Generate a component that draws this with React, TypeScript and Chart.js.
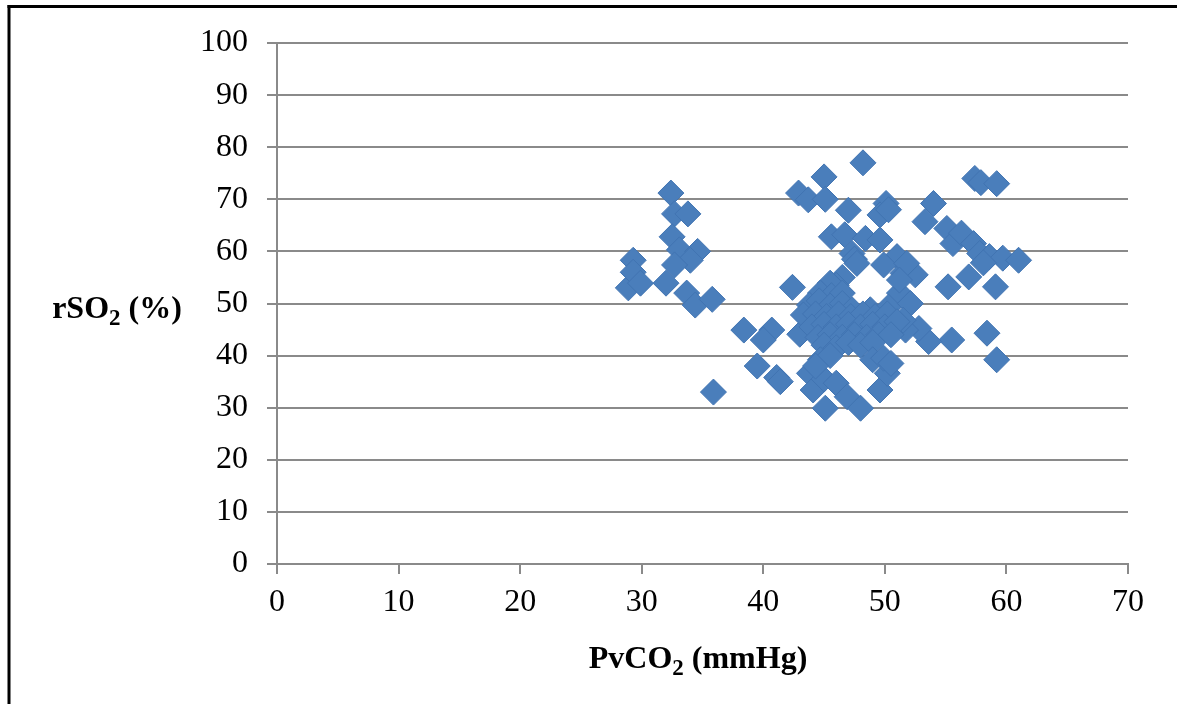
import { useEffect, useRef } from "react";
import { Chart, registerables } from "chart.js";

Chart.register(...registerables);

// PvCO2 (mmHg) readings, paired by index with rSO2 (%) readings
const pvco2: number[] = [
  // low PvCO2 group
  28.9, 29.3, 29.3, 29.9, 32.4, 32.7, 33.8, 32.5, 33.1, 34.6, 34.0, 32.7, 32.0, 33.7, 34.4, 35.8, 35.9,
  // 38-43 mmHg
  38.4, 40.7, 40.0, 39.5, 41.1, 41.4, 42.4, 43.0,
  // high rSO2 values, 43-53 mmHg
  42.9, 43.7, 45.0, 45.1, 47.0, 48.2, 45.6, 46.7, 48.4, 49.6, 47.3, 47.5, 50.1, 49.6, 50.3, 51.0, 49.9, 51.5, 52.5, 47.7, 51.8,
  // high PvCO2 group
  54.0, 53.3, 57.4, 57.9, 59.2, 55.1, 55.6, 56.3, 57.3, 57.8, 58.6, 59.7, 61.0, 58.1, 55.2, 56.9, 59.1, 58.4, 59.2, 55.5, 53.6, 52.8, 51.7,
  // central cluster, rSO2 41-56 %
  46.5, 46.0, 45.5, 44.7, 45.6, 46.5, 51.2, 51.2,
  43.8, 44.6, 45.5, 46.5, 47.3, 48.8, 50.3, 52.1,
  43.3, 44.3, 45.2, 46.2, 47.2, 48.2, 49.2, 50.2, 51.5,
  44.0, 45.0, 46.0, 47.0, 48.0, 49.0, 50.0, 51.0,
  44.5, 45.5, 46.5, 47.5, 48.5, 49.5, 50.5,
  45.0, 46.0, 47.0, 48.0, 49.0,
  // central cluster, rSO2 30-41 %
  44.7, 43.8, 44.1, 45.1, 45.0, 46.0, 46.9, 48.0, 49.0, 49.6, 50.2, 49.9, 50.5, 45.5, 44.3,
];

const rso2: number[] = [
  53.0, 58.3, 56.0, 53.9, 71.2, 67.2, 67.2, 62.8, 60.3, 60.0, 58.3, 57.4, 53.9, 52.0, 49.7, 50.8, 33.0,
  44.9, 44.9, 43.0, 38.0, 35.8, 35.0, 53.1, 44.1,
  71.2, 69.9, 74.3, 70.0, 67.9, 77.0, 62.8, 63.2, 62.5, 62.2, 59.6, 58.5, 69.2, 67.0, 68.0, 59.0, 57.4, 55.8, 55.5, 57.7, 57.7,
  69.2, 65.7, 74.0, 73.2, 73.0, 64.4, 61.5, 63.5, 61.5, 59.6, 59.0, 58.7, 58.3, 57.8, 53.2, 55.1, 53.2, 44.3, 39.2, 43.0, 42.7, 45.2, 44.9,
  55.0, 53.5, 53.9, 52.0, 51.5, 52.0, 52.0, 54.5,
  49.7, 50.5, 49.5, 50.0, 48.8, 48.8, 49.3, 50.0,
  47.8, 48.0, 47.5, 48.0, 47.5, 48.0, 47.5, 48.0, 46.8,
  45.5, 46.0, 45.5, 46.0, 45.5, 46.0, 45.5, 46.5,
  43.5, 44.0, 43.5, 44.0, 43.5, 44.0, 44.0,
  42.0, 41.5, 42.5, 42.0, 42.5,
  39.2, 36.6, 33.4, 29.9, 35.5, 34.7, 32.1, 29.9, 39.2, 33.4, 36.6, 39.5, 38.5, 40.0, 38.0,
];

const xRange = { min: 0, max: 70, step: 10 };
const yRange = { min: 0, max: 100, step: 10 };

type Part = { text: string; sub?: boolean };
const xTitle: Part[] = [{ text: "PvCO" }, { text: "2", sub: true }, { text: " (mmHg)" }];
const yTitle: Part[] = [{ text: "rSO" }, { text: "2", sub: true }, { text: " (%)" }];

const SERIF = '"Liberation Serif", "Times New Roman", serif';
const GRID = "#8a8a8a";

function drawParts(ctx: CanvasRenderingContext2D, parts: Part[], cx: number, baseline: number) {
  const mainFont = `bold 32px ${SERIF}`;
  const subFont = `bold 23px ${SERIF}`;
  const widths = parts.map((p) => {
    ctx.font = p.sub ? subFont : mainFont;
    return ctx.measureText(p.text).width;
  });
  const total = widths.reduce((a, b) => a + b, 0);
  let x = cx - total / 2;
  parts.forEach((p, i) => {
    ctx.font = p.sub ? subFont : mainFont;
    ctx.fillText(p.text, x, baseline + (p.sub ? 7 : 0));
    x += widths[i];
  });
}

// Outer frame plus axis titles with subscripts
const decorations = {
  id: "decorations",
  afterDraw(chart: Chart) {
    const ctx = chart.ctx;
    ctx.save();
    ctx.fillStyle = "#000";
    ctx.fillRect(7.5, 5, 3, chart.height - 5);
    ctx.fillRect(7.5, 5, chart.width - 7.5, 3);
    ctx.textAlign = "left";
    ctx.textBaseline = "alphabetic";
    drawParts(ctx, yTitle, 117, 318);
    drawParts(ctx, xTitle, 698, 668);
    ctx.restore();
  },
};

export default function App() {
  const ref = useRef<HTMLCanvasElement | null>(null);

  useEffect(() => {
    if (!ref.current) return;
    const points = pvco2.map((x, i) => ({ x, y: rso2[i] }));
    const chart = new Chart(ref.current, {
      type: "scatter",
      data: {
        datasets: [
          {
            label: "rSO2",
            data: points,
            pointStyle: "rectRot",
            pointRadius: 13,
            pointHoverRadius: 13,
            backgroundColor: "#4a7ebb",
            borderColor: "#4174b2",
            borderWidth: 1,
          },
        ],
      },
      options: {
        responsive: false,
        animation: false,
        events: [],
        layout: { padding: { left: 0, right: 49, top: 43, bottom: 0 } },
        plugins: { legend: { display: false }, tooltip: { enabled: false } },
        scales: {
          x: {
            type: "linear",
            min: xRange.min,
            max: xRange.max,
            afterFit: (s: any) => {
              s.height = 140;
            },
            ticks: {
              stepSize: xRange.step,
              color: "#000",
              padding: 9,
              font: { family: SERIF, size: 32 },
            },
            grid: {
              drawOnChartArea: false,
              drawTicks: true,
              tickLength: 10,
              color: GRID,
              lineWidth: 2,
            },
            border: { display: true, color: GRID, width: 2 },
          },
          y: {
            type: "linear",
            min: yRange.min,
            max: yRange.max,
            afterFit: (s: any) => {
              s.width = 277;
            },
            ticks: {
              stepSize: yRange.step,
              color: "#000",
              padding: 19,
              font: { family: SERIF, size: 32 },
            },
            grid: {
              drawTicks: true,
              tickLength: 10,
              color: GRID,
              lineWidth: 2,
            },
            border: { display: true, color: GRID, width: 2 },
          },
        },
      },
      plugins: [decorations],
    });
    return () => chart.destroy();
  }, []);

  return (
    <div
      style={{
        position: "fixed",
        left: 0,
        top: 0,
        width: 1177,
        height: 704,
        background: "#fff",
        overflow: "hidden",
      }}
    >
      <canvas ref={ref} width={1177} height={704} style={{ display: "block" }} />
    </div>
  );
}
